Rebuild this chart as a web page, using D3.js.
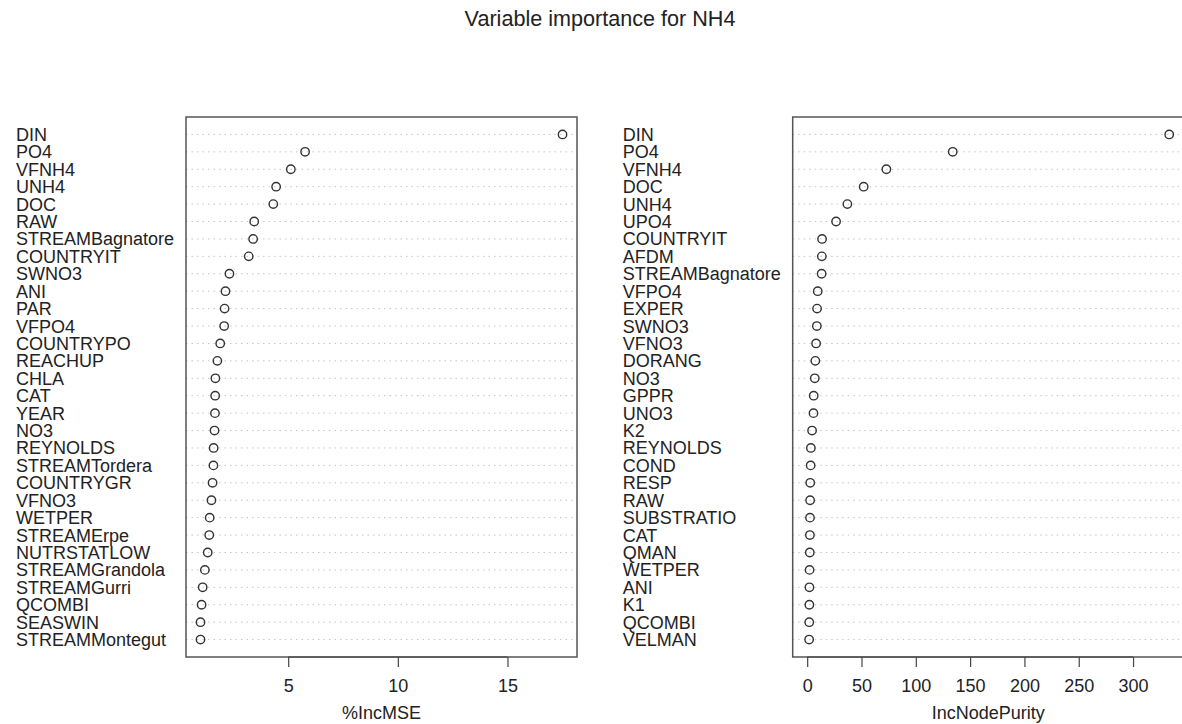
<!DOCTYPE html>
<html>
<head>
<meta charset="utf-8">
<script src="https://cdn.jsdelivr.net/npm/d3@7"></script>
<style>
  body { margin: 0; background: #fff; }
  text { font-family: "Liberation Sans", Arial, sans-serif; fill: #222; }
</style>
</head>
<body>
<svg id="chart"></svg>
<script>
// %IncMSE panel, top to bottom
const mseVars = ["DIN", "PO4", "VFNH4", "UNH4", "DOC", "RAW", "STREAMBagnatore", "COUNTRYIT",
  "SWNO3", "ANI", "PAR", "VFPO4", "COUNTRYPO", "REACHUP", "CHLA", "CAT", "YEAR", "NO3",
  "REYNOLDS", "STREAMTordera", "COUNTRYGR", "VFNO3", "WETPER", "STREAMErpe", "NUTRSTATLOW",
  "STREAMGrandola", "STREAMGurri", "QCOMBI", "SEASWIN", "STREAMMontegut"];
const mseValues = [17.51, 5.77, 5.12, 4.45, 4.32, 3.45, 3.4, 3.2, 2.32, 2.14, 2.1, 2.08, 1.9, 1.77,
  1.68, 1.67, 1.66, 1.64, 1.6, 1.59, 1.55, 1.5, 1.42, 1.4, 1.33, 1.2, 1.1, 1.05, 1.0, 1.0];
const mseTicks = [5, 10, 15];

// IncNodePurity panel, top to bottom
const purityVars = ["DIN", "PO4", "VFNH4", "DOC", "UNH4", "UPO4", "COUNTRYIT", "AFDM",
  "STREAMBagnatore", "VFPO4", "EXPER", "SWNO3", "VFNO3", "DORANG", "NO3", "GPPR", "UNO3", "K2",
  "REYNOLDS", "COND", "RESP", "RAW", "SUBSTRATIO", "CAT", "QMAN", "WETPER", "ANI", "K1",
  "QCOMBI", "VELMAN"];
const purityValues = [333.3, 134, 72.9, 52, 37, 26.6, 13.7, 13.5, 13.3, 9.7, 9.1, 8.9, 8.2, 7.5,
  7.0, 6.0, 5.8, 4.5, 3.4, 3.2, 2.8, 2.7, 2.6, 2.5, 2.4, 2.2, 2.1, 2.0, 1.9, 1.8];
const purityTicks = [0, 50, 100, 150, 200, 250, 300];

const width = 1182, height = 724;
const svg = d3.select("#chart").attr("width", width).attr("height", height);

svg.append("text")
  .attr("x", 600).attr("y", 26)
  .attr("text-anchor", "middle")
  .style("font-size", "21.6px")
  .text("Variable importance for NH4");

const boxTop = 117, boxBottom = 657, panelW = 391;

function drawPanel(left, vars, values, ticks, xmin, xlabel) {
  // R dotchart: xlim extended by 4% on each side, ylim = 0..n+1
  const lo = xmin, hi = d3.max(values);
  const pad = (hi - lo) * 0.04;
  const x = d3.scaleLinear().domain([lo - pad, hi + pad]).range([left, left + panelW]);
  const y = d3.scaleLinear().domain([0, vars.length + 1]).range([boxBottom, boxTop]);
  const g = svg.append("g");
  const rows = vars.map((v, i) => ({ name: v, value: values[i], pos: vars.length - i }));

  g.selectAll(".guide").data(rows).join("line")
    .attr("x1", left).attr("x2", left + panelW)
    .attr("y1", d => y(d.pos)).attr("y2", d => y(d.pos))
    .attr("stroke", "#c4c4c4").attr("stroke-width", 1)
    .attr("stroke-dasharray", "1.5,4");

  g.selectAll(".lab").data(rows).join("text")
    .attr("x", left - 170).attr("y", d => y(d.pos))
    .attr("dy", "0.36em")
    .style("font-size", "18px")
    .text(d => d.name);

  g.selectAll("circle").data(rows).join("circle")
    .attr("cx", d => x(d.value)).attr("cy", d => y(d.pos))
    .attr("r", 4.2)
    .attr("fill", "none").attr("stroke", "#333").attr("stroke-width", 1.4);

  g.append("rect")
    .attr("x", left).attr("y", boxTop)
    .attr("width", panelW).attr("height", boxBottom - boxTop)
    .attr("fill", "none").attr("stroke", "#555").attr("stroke-width", 1.5);

  const axis = g.append("g").attr("transform", `translate(0,${boxBottom})`)
    .call(d3.axisBottom(x).tickValues(ticks).tickSize(10).tickPadding(12).tickFormat(d3.format("d")));
  axis.select(".domain").attr("stroke", "#555").attr("stroke-width", 1.5)
    .attr("d", `M${x(ticks[0])},0H${x(ticks[ticks.length - 1])}`);
  axis.selectAll(".tick line").attr("stroke", "#444").attr("stroke-width", 1.2);
  axis.selectAll(".tick text").style("font-size", "18px").attr("fill", "#222")
    .style("font-family", "'Liberation Sans', Arial, sans-serif");

  g.append("text")
    .attr("x", left + panelW / 2).attr("y", 719)
    .attr("text-anchor", "middle")
    .style("font-size", "18px")
    .text(xlabel);
}

drawPanel(186, mseVars, mseValues, mseTicks, d3.min(mseValues), "%IncMSE");
drawPanel(792.7, purityVars, purityValues, purityTicks, 0, "IncNodePurity");
</script>
</body>
</html>
